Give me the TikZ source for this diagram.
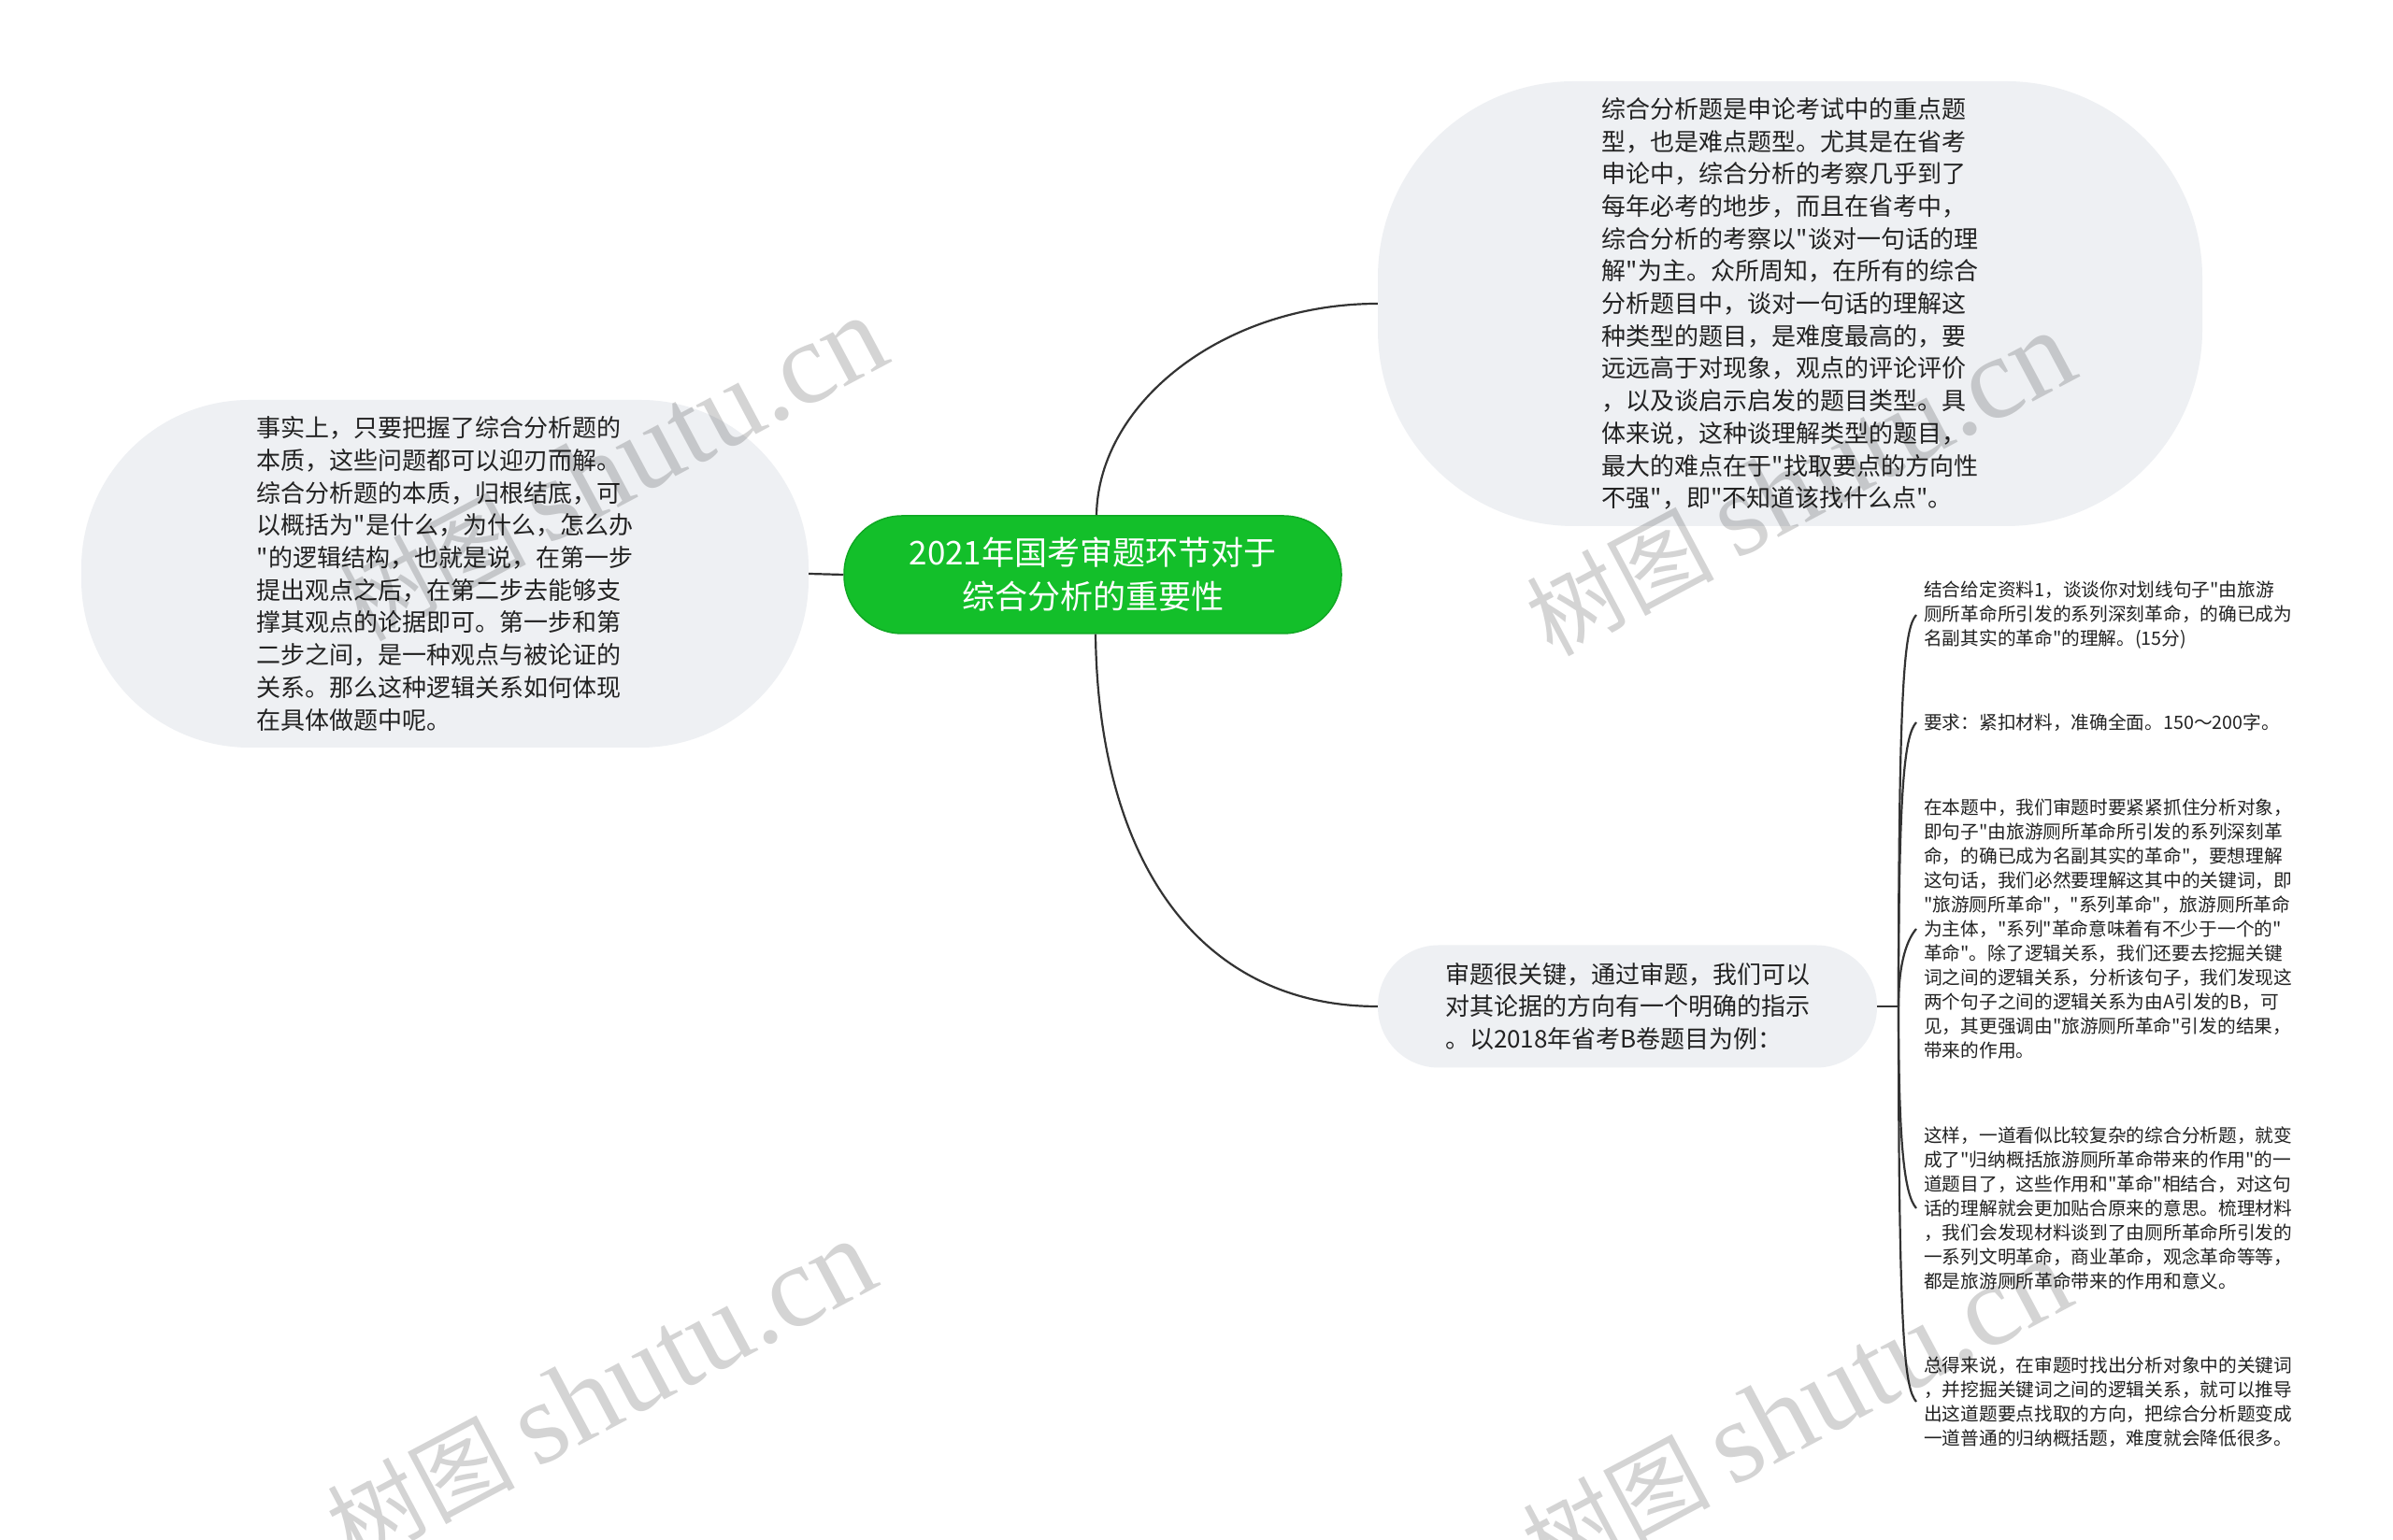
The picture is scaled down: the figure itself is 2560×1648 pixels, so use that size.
\documentclass[tikz,border=0pt]{standalone}
\usepackage{fontspec}
\setmainfont{Noto Sans CJK SC}[Ligatures=TeXOff]
\newfontfamily\wmlatin{Liberation Serif}
\definecolor{bubblec}{HTML}{EEF0F3}
\definecolor{linec}{HTML}{333333}
\definecolor{textc}{HTML}{222222}
\definecolor{greenc}{HTML}{13BF2A}
\definecolor{greenb}{HTML}{10A824}
\tikzset{
  conn/.style={draw=linec, line width=2.2pt},
  bubble/.style={fill=bubblec, text=textc, align=left, inner sep=0pt,
    font=\fontsize{26}{34.7}\selectfont},
  centralbox/.style={fill=greenc, draw=greenb, line width=1.5pt, text=white, align=center,
    inner sep=0pt, rounded corners=62pt, minimum width=532pt, minimum height=126pt,
    font=\fontsize{35}{47}\selectfont},
  leafbox/.style={anchor=west, align=left, text=textc, inner sep=8pt,
    font=\fontsize{19.7}{26}\selectfont},
  wmark/.style={text=black, opacity=0.17, rotate=28, inner sep=0pt}
}
\begin{document}
\begin{tikzpicture}[x=1pt,y=1pt]
\useasboundingbox (0,0) rectangle (2560,1648);
\fill[white] (0,0) rectangle (2560,1648);

% central node
\node[centralbox] (c) at (1169,1033) {2021年国考审题环节对于\\综合分析的重要性};

% top-right bubble
\node[bubble, rounded corners=210pt, minimum width=882pt, minimum height=476pt] (tr) at (1915,1323) {%
综合分析题是申论考试中的重点题\\%
型，也是难点题型。尤其是在省考\\%
申论中，综合分析的考察几乎到了\\%
每年必考的地步，而且在省考中，\\%
综合分析的考察以"谈对一句话的理\\%
解"为主。众所周知，在所有的综合\\%
分析题目中，谈对一句话的理解这\\%
种类型的题目，是难度最高的，要\\%
远远高于对现象，观点的评论评价\\%
，以及谈启示启发的题目类型。具\\%
体来说，这种谈理解类型的题目，\\%
最大的难点在于"找取要点的方向性\\%
不强"，即"不知道该找什么点"。};

% left bubble
\node[bubble, rounded corners=180pt, minimum width=778pt, minimum height=372pt] (lf) at (476,1034) {%
事实上，只要把握了综合分析题的\\%
本质，这些问题都可以迎刃而解。\\%
综合分析题的本质，归根结底，可\\%
以概括为"是什么，为什么，怎么办\\%
"的逻辑结构，也就是说，在第一步\\%
提出观点之后，在第二步去能够支\\%
撑其观点的论据即可。第一步和第\\%
二步之间，是一种观点与被论证的\\%
关系。那么这种逻辑关系如何体现\\%
在具体做题中呢。};

% bottom bubble
\node[bubble, rounded corners=65pt, minimum width=534pt, minimum height=131pt] (q) at (1741,571) {%
审题很关键，通过审题，我们可以\\%
对其论据的方向有一个明确的指示\\%
。以2018年省考B卷题目为例：};

% leaves
\node[leafbox] (l1) at (2050,990) {%
结合给定资料1，谈谈你对划线句子"由旅游\\%
厕所革命所引发的系列深刻革命，的确已成为\\%
名副其实的革命"的理解。(15分)};
\node[leafbox] (l2) at (2050,875) {要求：紧扣材料，准确全面。150～200字。};
\node[leafbox] (l3) at (2050,654) {%
在本题中，我们审题时要紧紧抓住分析对象，\\%
即句子"由旅游厕所革命所引发的系列深刻革\\%
命，的确已成为名副其实的革命"，要想理解\\%
这句话，我们必然要理解这其中的关键词，即\\%
"旅游厕所革命"，"系列革命"，旅游厕所革命\\%
为主体，"系列"革命意味着有不少于一个的"\\%
革命"。除了逻辑关系，我们还要去挖掘关键\\%
词之间的逻辑关系，分析该句子，我们发现这\\%
两个句子之间的逻辑关系为由A引发的B，可\\%
见，其更强调由"旅游厕所革命"引发的结果，\\%
带来的作用。};
\node[leafbox] (l4) at (2050,355) {%
这样，一道看似比较复杂的综合分析题，就变\\%
成了"归纳概括旅游厕所革命带来的作用"的一\\%
道题目了，这些作用和"革命"相结合，对这句\\%
话的理解就会更加贴合原来的意思。梳理材料\\%
，我们会发现材料谈到了由厕所革命所引发的\\%
一系列文明革命，商业革命，观念革命等等，\\%
都是旅游厕所革命带来的作用和意义。};
\node[leafbox] (l5) at (2050,148) {%
总得来说，在审题时找出分析对象中的关键词\\%
，并挖掘关键词之间的逻辑关系，就可以推导\\%
出这道题要点找取的方向，把综合分析题变成\\%
一道普通的归纳概括题，难度就会降低很多。};

% connectors
\draw[conn] (lf.east) -- (c.west);
\draw[conn] ([xshift=4pt]c.north) .. controls (1175,1218) and (1310,1323) .. (tr.west);
\draw[conn] ([xshift=3pt]c.south) .. controls (1175,723) and (1285,571) .. (q.west);
\coordinate (j) at (2031,571);
\draw[conn] (q.east) -- (j);
\draw[conn] (j) .. controls (2031,930) and (2038,976) .. (l1.west);
\draw[conn] (j) .. controls (2031,815) and (2038,861) .. (l2.west);
\draw[conn] (j) .. controls (2031,612) and (2038,640) .. (l3.west);
\draw[conn] (j) .. controls (2031,415) and (2038,369) .. (l4.west);
\draw[conn] (j) .. controls (2031,208) and (2038,162) .. (l5.west);

% watermarks
\node[wmark] (w1) at (655,1146) {\fontsize{100}{100}\selectfont 树图 {\wmlatin\fontsize{125}{125}\selectfont shutu.cn}};
\node[wmark] (w2) at (1926,1130) {\fontsize{100}{100}\selectfont 树图 {\wmlatin\fontsize{125}{125}\selectfont shutu.cn}};
\node[wmark] (w3) at (643,158) {\fontsize{100}{100}\selectfont 树图 {\wmlatin\fontsize{125}{125}\selectfont shutu.cn}};
\node[wmark] (w4) at (1922,138) {\fontsize{100}{100}\selectfont 树图 {\wmlatin\fontsize{125}{125}\selectfont shutu.cn}};
\end{tikzpicture}
\end{document}
